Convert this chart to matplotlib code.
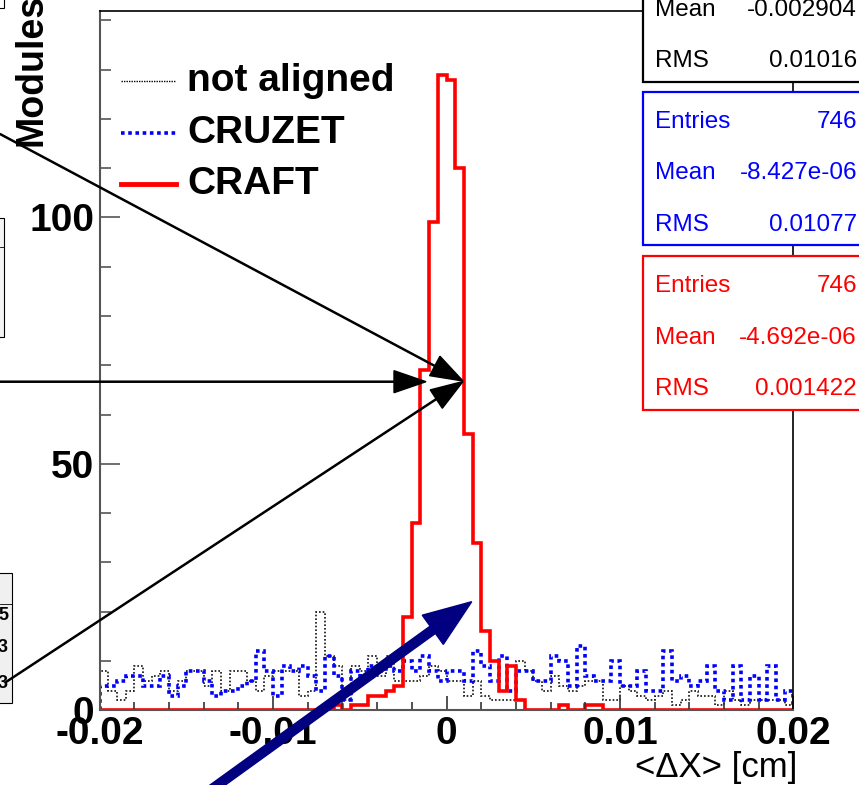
import numpy as np
import matplotlib.pyplot as plt

plt.rcParams['font.family'] = ['Liberation Sans', 'DejaVu Sans']

# <dX> per module, 80 bins of 0.0005 cm between -0.02 and 0.02
edges = np.linspace(-0.02, 0.02, 81)

not_aligned = [8, 4, 2, 4, 9, 6, 7, 8, 4, 6, 8, 8, 5, 8, 4, 8, 8,
               6, 4, 7, 8, 8, 8, 3, 4, 20, 11, 9, 2, 9, 8, 11, 7,
               11, 6, 6, 6, 7, 9, 8, 6, 6, 3, 6, 3, 2, 2, 2, 10, 8,
               6, 4, 7, 5, 4, 5, 6, 6, 2, 2, 5, 4, 3, 2, 3, 4, 1, 2, 4, 3,
               3, 1, 4, 2, 1, 2, 2, 2, 2, 1]
cruzet = [5, 5, 6, 7, 7, 5, 5, 7, 3, 5, 8, 8, 6, 3, 4, 4, 5, 6, 12, 8,
          3, 9, 8, 9, 7, 4, 11, 7, 2, 8, 7, 9,
          8, 9, 8, 10, 8, 11, 8, 6, 8, 8, 6, 12, 9, 6, 11, 4, 8, 8,
          6, 6, 11, 10, 5, 13, 7, 6, 6, 10, 5, 5, 8, 4, 4, 12, 6, 7, 5, 6,
          9, 4, 2, 9, 2, 7, 2, 9, 2, 4]
craft = [0] * 27 + [1, 0, 1, 1, 3, 3, 4, 5, 19, 38, 69, 99, 129, 128, 110,
                    56, 34, 16, 10, 4, 9, 2, 0, 0, 0, 0, 1, 0, 0, 1, 1] + [0] * 22

series_names = ['not aligned', 'CRUZET', 'CRAFT']
series_colors = ['black', '#0000ff', '#ff0000']

stat_rows = [
    [('Mean', '-0.002904'), ('RMS', '0.01016')],
    [('Entries', '746'), ('Mean', '-8.427e-06'), ('RMS', '0.01077')],
    [('Entries', '746'), ('Mean', '-4.692e-06'), ('RMS', '0.001422')],
]

xticks = [-0.02, -0.01, 0, 0.01, 0.02]
xtick_labels = ['-0.02', '-0.01', '0', '0.01', '0.02']
yticks = [0, 50, 100]
ytick_labels = ['0', '50', '100']

W, H = 859, 785
fig = plt.figure(figsize=(W / 100, H / 100), dpi=100)
ax = fig.add_axes([99.7 / W, 1 - 710.3 / H, 693.6 / W, 699.3 / H])

ax.stairs(not_aligned, edges, color='#111111', lw=1.2, linestyle=(0, (1, 1.2)))
ax.stairs(cruzet, edges, color=series_colors[1], lw=2.6, linestyle=(0, (1, 1)))
ax.stairs(craft, edges, color=series_colors[2], lw=2.6, baseline=0)

ax.set_xlim(-0.02, 0.02)
ax.set_ylim(0, 1.1 * max(craft))

ax.set_xticks(xticks)
ax.set_xticklabels(xtick_labels, fontweight='bold', fontsize=28)
ax.set_xticks(np.arange(-0.02, 0.0201, 0.002), minor=True)
ax.set_yticks(yticks)
ax.set_yticklabels(ytick_labels, fontweight='bold', fontsize=28)
ax.set_yticks(np.arange(0, 141, 10), minor=True)
ax.tick_params(axis='x', which='major', direction='in', length=10, width=1.2,
               color='#333333', pad=4)
ax.tick_params(axis='x', which='minor', direction='in', length=6, width=1.2,
               color='#333333')
ax.tick_params(axis='y', which='major', direction='in', length=14.5, width=1.2,
               color='#555555', pad=4)
ax.tick_params(axis='y', which='minor', direction='in', length=8, width=1.2,
               color='#555555')
for side in ['left', 'bottom']:
    ax.spines[side].set_color('#555555')
    ax.spines[side].set_linewidth(1.5)
for side in ['top', 'right']:
    ax.spines[side].set_color('black')
    ax.spines[side].set_linewidth(1.2)

# overlay in pixel coordinates for legend, stat boxes and arrows
ov = fig.add_axes([0, 0, 1, 1], zorder=5)
ov.set_xlim(0, W)
ov.set_ylim(H, 0)
ov.axis('off')
ov.patch.set_alpha(0)

# legend
leg_y = [81, 133, 184]
leg_styles = [dict(lw=1.0, linestyle=(0, (1, 0.8))),
              dict(lw=2.6, linestyle=(0, (1, 1))),
              dict(lw=3.5, linestyle='-')]
for name, col, y, st in zip(series_names, series_colors, leg_y, leg_styles):
    ov.plot([121, 176], [y, y], color=col, **st)
    ov.text(187, y, name, fontsize=28, fontweight='bold', va='center', ha='left')

# statistics boxes
box_tops = [-72, 91.7, 256]
box_h = 153.5
row_step = 51.7
for rows, top, col in zip(stat_rows, box_tops, series_colors):
    ov.add_patch(plt.Rectangle((643.3, top), 260, box_h, facecolor='white',
                               edgecolor=col, lw=1.6, zorder=3))
    first = top + 30 + (row_step if len(rows) == 2 else 0)
    for j, (lab, val) in enumerate(rows):
        yy = first + j * row_step
        ov.text(655, yy, lab, color=col, fontsize=17.5, va='center', ha='left', zorder=4)
        ov.text(857, yy, val, color=col, fontsize=17.5, va='center', ha='right', zorder=4)

# axis titles
ov.text(797, 767, '<\u0394X> [cm]', fontsize=25, ha='right', va='center')
ov.text(32, 146, 'Modules', fontsize=27, fontweight='bold', rotation=90,
        ha='center', va='bottom')

# pieces of neighbouring panels at the left edge
ov.add_patch(plt.Rectangle((-5, -5), 9, 13, facecolor='white', edgecolor='black', lw=0.8))
ov.add_patch(plt.Rectangle((-5, 218), 8.7, 119, facecolor='#f4f4f4', edgecolor='black', lw=0.8))
ov.plot([0, 3.7], [247, 247], color='black', lw=0.6)
ov.add_patch(plt.Rectangle((-5, 573), 17, 130, facecolor='#f0f0f0', edgecolor='black', lw=0.8))
ov.plot([0, 12], [604, 604], color='black', lw=0.6)
for yy in [616, 647, 684]:
    ov.text(8, yy, '3' if yy > 620 else '5', fontsize=13, fontweight='bold',
            ha='right', va='center')

# pointer arrows onto the CRAFT peak
arrow_kw = dict(width=1.1, head_width=22, head_length=32, length_includes_head=True,
                color='black', zorder=6)
ov.arrow(0, 134, 463, 247, **arrow_kw)
ov.arrow(0, 381.7, 426, 0, **arrow_kw)
ov.arrow(6, 682, 457, -300.5, **arrow_kw)
ov.arrow(208, 792, 263.7, -190.3, width=9, head_width=36, head_length=48,
         length_includes_head=True, color='#000080', zorder=6)

fig.savefig('out.png', dpi=100)
